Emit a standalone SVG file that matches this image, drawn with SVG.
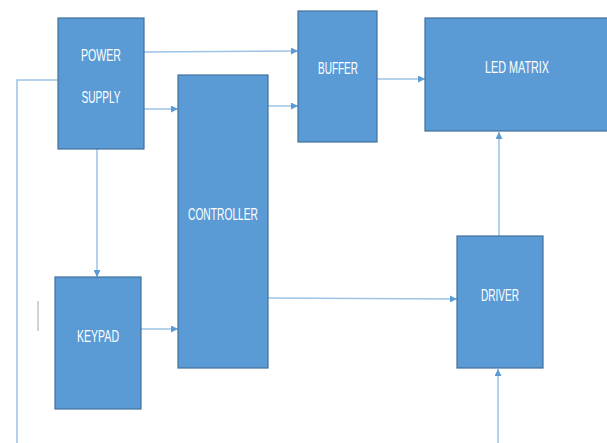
<svg xmlns="http://www.w3.org/2000/svg" width="607" height="443" viewBox="0 0 607 443">
<style>
.box{fill:#5B9BD5;stroke:#41719C;stroke-width:1.2}
.lbl{fill:#FFFFFF;font-family:"Liberation Sans",Arial,sans-serif;font-size:16px;text-anchor:middle}
.ln{fill:none;stroke:#9DC3E6;stroke-width:1.5}
</style>
<defs>
<marker id="ah" viewBox="0 0 10 10" refX="10" refY="5" markerWidth="7" markerHeight="7" markerUnits="userSpaceOnUse" orient="auto">
<path d="M0,0 L10,5 L0,10 Z" fill="#5B9BD5"/>
</marker>
</defs>
<g id="connectors">
<line class="ln" x1="144" y1="52" x2="298" y2="51" marker-end="url(#ah)"/>
<line class="ln" x1="144" y1="109" x2="178" y2="109" marker-end="url(#ah)"/>
<line class="ln" x1="268" y1="106" x2="298" y2="106" marker-end="url(#ah)"/>
<line class="ln" x1="377" y1="79" x2="425" y2="79" marker-end="url(#ah)"/>
<polyline class="ln" points="58,80 17,80 17,443"/>
<line class="ln" x1="97" y1="149" x2="97" y2="277" marker-end="url(#ah)"/>
<line class="ln" x1="141" y1="329" x2="178" y2="329" marker-end="url(#ah)"/>
<line class="ln" x1="268" y1="298" x2="457" y2="299" marker-end="url(#ah)"/>
<line class="ln" x1="499" y1="236" x2="499" y2="132" marker-end="url(#ah)"/>
<line class="ln" x1="498" y1="443" x2="498" y2="369" marker-end="url(#ah)"/>
<line x1="38" y1="301" x2="38" y2="331" stroke="#A6A6A6" stroke-width="1"/>
</g>
<g id="power-supply">
<rect class="box" x="58" y="18" width="86" height="131"/>
<text class="lbl" x="101" y="61" textLength="40" lengthAdjust="spacingAndGlyphs">POWER</text>
<text class="lbl" x="101" y="103" textLength="39" lengthAdjust="spacingAndGlyphs">SUPPLY</text>
</g>
<g id="controller">
<rect class="box" x="178" y="75" width="90" height="293"/>
<text class="lbl" x="223" y="220" textLength="70" lengthAdjust="spacingAndGlyphs">CONTROLLER</text>
</g>
<g id="buffer">
<rect class="box" x="298" y="11" width="79" height="131"/>
<text class="lbl" x="338" y="74" textLength="40" lengthAdjust="spacingAndGlyphs">BUFFER</text>
</g>
<g id="led-matrix">
<rect class="box" x="425" y="18" width="190" height="113"/>
<text class="lbl" x="517" y="73" textLength="64" lengthAdjust="spacingAndGlyphs">LED MATRIX</text>
</g>
<g id="keypad">
<rect class="box" x="55" y="277" width="86" height="132"/>
<text class="lbl" x="98" y="342" textLength="42" lengthAdjust="spacingAndGlyphs">KEYPAD</text>
</g>
<g id="driver">
<rect class="box" x="457" y="236" width="86" height="132"/>
<text class="lbl" x="500" y="301" textLength="38" lengthAdjust="spacingAndGlyphs">DRIVER</text>
</g>
</svg>
